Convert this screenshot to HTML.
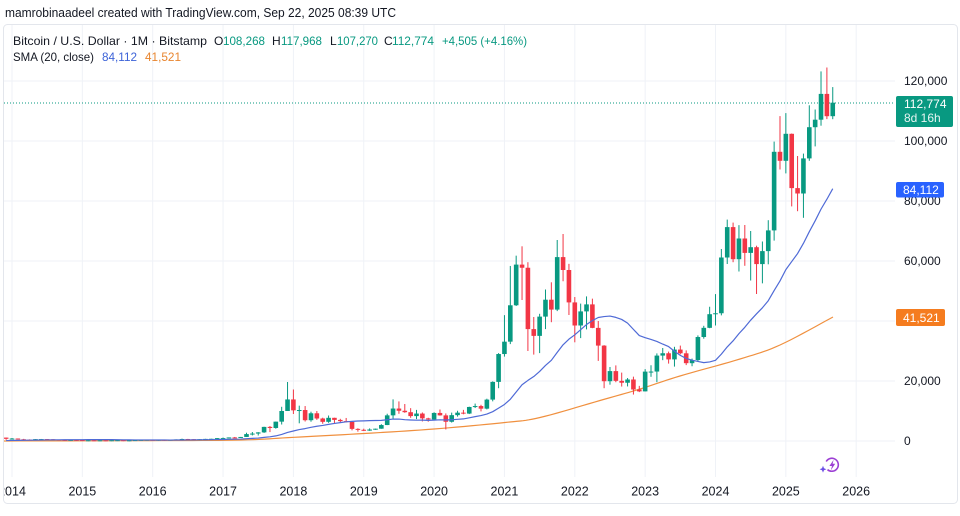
<!DOCTYPE html>
<html><head><meta charset="utf-8"><style>
html,body{margin:0;padding:0;background:#fff;}
body{width:960px;height:516px;overflow:hidden;}
svg{display:block;font-family:"Liberation Sans",Arial,sans-serif;}
</style></head><body>
<svg id="s" width="960" height="516" viewBox="0 0 960 516" xmlns="http://www.w3.org/2000/svg">
<defs><clipPath id="pc"><rect x="4" y="25" width="891" height="477"/></clipPath>
<clipPath id="fc"><rect x="4" y="25" width="953" height="478"/></clipPath></defs>
<rect x="0" y="0" width="960" height="516" fill="#fff"/>
<text x="5" y="17" font-size="13" fill="#131722" textLength="391" lengthAdjust="spacingAndGlyphs">mamrobinaadeel created with TradingView.com, Sep 22, 2025 08:39 UTC</text>
<rect x="3.5" y="24.5" width="954" height="479" rx="4" fill="#fff" stroke="#e3e6ec"/>
<g id="grid" stroke="#eff2f7" stroke-width="1"></g>
<g clip-path="url(#fc)" font-size="12.5" fill="#131722" text-anchor="middle" id="years"></g>
<g font-size="12" fill="#131722">
<text x="904" y="85">120,000</text>
<text x="904" y="145">100,000</text>
<text x="904" y="205">80,000</text>
<text x="904" y="265">60,000</text>
<text x="904" y="385">20,000</text>
<text x="904" y="445">0</text>
</g>
<line x1="4" y1="103" x2="895" y2="103" stroke="#089981" stroke-width="1" stroke-dasharray="1,2"/>
<g clip-path="url(#pc)"><g id="orange"></g><g id="cand"></g><g id="blue"></g></g>
<rect x="896" y="96" width="57" height="31" rx="2" fill="#089981"/>
<text x="904" y="108" font-size="12" fill="#fff">112,774</text>
<text x="904" y="122" font-size="12" fill="#e6f5f2">8d 16h</text>
<rect x="896" y="182" width="48" height="15.5" rx="2" fill="#2962ff"/>
<text x="903" y="194" font-size="12" fill="#fff">84,112</text>
<rect x="896" y="309" width="49" height="17" rx="2" fill="#f57c1f"/>
<text x="903" y="322" font-size="12" fill="#fff">41,521</text>
<g font-size="12">
<text x="13" y="45" fill="#131722" textLength="194" lengthAdjust="spacingAndGlyphs">Bitcoin / U.S. Dollar · 1M · Bitstamp</text>
<text x="214" y="45" fill="#131722">O</text><text x="223" y="45" fill="#089981" textLength="42" lengthAdjust="spacingAndGlyphs">108,268</text>
<text x="272" y="45" fill="#131722">H</text><text x="281" y="45" fill="#089981" textLength="41" lengthAdjust="spacingAndGlyphs">117,968</text>
<text x="330" y="45" fill="#131722">L</text><text x="337" y="45" fill="#089981" textLength="41" lengthAdjust="spacingAndGlyphs">107,270</text>
<text x="384" y="45" fill="#131722">C</text><text x="392" y="45" fill="#089981" textLength="42" lengthAdjust="spacingAndGlyphs">112,774</text>
<text x="442" y="45" fill="#089981" textLength="85" lengthAdjust="spacingAndGlyphs">+4,505 (+4.16%)</text>
<text x="13" y="61" fill="#131722" textLength="81" lengthAdjust="spacingAndGlyphs">SMA (20, close)</text>
<text x="102" y="61" fill="#3d63d8" textLength="35" lengthAdjust="spacingAndGlyphs">84,112</text>
<text x="145" y="61" fill="#e8852f" textLength="36" lengthAdjust="spacingAndGlyphs">41,521</text>
</g>
<g>
<path d="M827.5,469.6 A6.5,6.5 0 1 0 826.2,461.5" fill="none" stroke="#9c3fd4" stroke-width="1.6"/>
<polygon points="833.6,459.8 829.4,466 832,466 830.8,470.4 835.2,463.8 832.6,463.8" fill="#9c3fd4"/>
<polygon points="823,465.8 824,468.2 826.4,469.2 824,470.2 823,472.6 822,470.2 819.6,469.2 822,468.2" fill="#6b4fe6"/>
</g>
</svg>
<script>
(function(){
var NS="http://www.w3.org/2000/svg";
function el(n,a,p){var e=document.createElementNS(NS,n);for(var k in a)e.setAttribute(k,a[k]);p.appendChild(e);return e;}
var grid=document.getElementById('grid'),years=document.getElementById('years');
for(var k=0;k<=12;k++){var gx=12+70.35*k;el('line',{x1:gx,y1:25,x2:gx,y2:477},grid);
 var t=el('text',{x:gx,y:495.5},years);t.textContent=String(2014+k);}
for(var p=0;p<=120;p+=20){var gy=441-3*p;el('line',{x1:4,y1:gy,x2:895,y2:gy},grid);}
var D=[[1.13,1.16,0.40,0.73],
[0.73,1.00,0.73,0.83],[0.83,0.85,0.47,0.57],[0.57,0.71,0.44,0.46],[0.46,0.55,0.34,0.45],[0.45,0.63,0.42,0.63],[0.63,0.68,0.55,0.64],[0.64,0.64,0.57,0.59],[0.59,0.60,0.45,0.48],[0.48,0.49,0.37,0.39],[0.39,0.41,0.28,0.34],[0.34,0.45,0.32,0.38],[0.38,0.38,0.31,0.32],
[0.32,0.32,0.15,0.22],[0.22,0.26,0.21,0.25],[0.25,0.30,0.24,0.24],[0.24,0.26,0.21,0.24],[0.24,0.25,0.23,0.23],[0.23,0.27,0.22,0.26],[0.26,0.32,0.25,0.28],[0.28,0.29,0.16,0.23],[0.23,0.24,0.23,0.24],[0.24,0.33,0.24,0.31],[0.31,0.50,0.31,0.38],[0.38,0.47,0.35,0.43],
[0.43,0.46,0.35,0.37],[0.37,0.44,0.37,0.44],[0.44,0.44,0.39,0.42],[0.42,0.47,0.41,0.45],[0.45,0.55,0.44,0.53],[0.53,0.78,0.53,0.67],[0.67,0.70,0.60,0.62],[0.62,0.62,0.53,0.57],[0.57,0.61,0.56,0.61],[0.61,0.72,0.60,0.70],[0.70,0.75,0.68,0.74],[0.74,0.97,0.74,0.96],
[0.96,1.15,0.75,0.97],[0.97,1.20,0.92,1.19],[1.19,1.35,0.90,1.08],[1.08,1.35,1.06,1.35],[1.35,2.76,1.35,2.30],[2.30,3.00,1.85,2.48],[2.48,2.95,1.83,2.87],[2.87,4.75,2.70,4.70],[4.70,5.00,2.97,4.34],[4.34,6.47,4.10,6.45],[6.45,11.40,5.50,10.00],[10.00,19.67,10.00,13.85],
[13.85,17.17,9.00,10.22],[10.22,11.78,5.90,10.33],[10.33,11.65,6.50,6.93],[6.93,9.77,6.43,9.24],[9.24,9.99,7.05,7.50],[7.50,7.77,5.75,6.39],[6.39,8.50,6.07,7.73],[7.73,7.76,5.88,7.03],[7.03,7.40,6.10,6.63],[6.63,7.68,6.20,6.37],[6.37,6.59,3.55,4.04],[4.04,4.24,3.12,3.74],
[3.74,4.10,3.35,3.46],[3.46,4.20,3.39,3.83],[3.83,4.12,3.73,4.10],[4.10,5.60,4.08,5.32],[5.32,9.09,5.30,8.55],[8.55,13.88,7.45,10.82],[10.82,13.20,9.07,10.08],[10.08,12.33,9.40,9.60],[9.60,10.95,7.73,8.30],[8.30,10.37,7.30,9.15],[9.15,9.51,6.52,7.55],[7.55,7.75,6.43,7.19],
[7.19,9.57,6.87,9.35],[9.35,10.50,8.45,8.54],[8.54,9.19,3.85,6.41],[6.41,9.46,6.15,8.62],[8.62,10.08,8.13,9.45],[9.45,10.38,8.90,9.14],[9.14,11.44,8.98,11.34],[11.34,12.47,10.99,11.65],[11.65,12.07,9.87,10.78],[10.78,14.10,10.53,13.80],[13.80,19.88,13.22,19.70],[19.70,29.30,17.60,28.99],
[28.99,41.95,28.13,33.11],[33.11,58.35,32.30,45.24],[45.24,61.78,45.00,58.80],[58.80,64.90,47.00,57.75],[57.75,59.60,30.00,37.30],[37.30,41.33,28.80,35.04],[35.04,42.40,29.30,41.46],[41.46,50.50,37.30,47.10],[47.10,52.90,39.60,43.80],[43.80,67.00,43.30,61.30],[61.30,69.00,53.25,57.00],[57.00,59.05,42.00,46.20],
[46.20,47.99,32.90,38.50],[38.50,45.80,34.30,43.20],[43.20,48.20,37.20,45.54],[45.54,47.45,37.60,37.70],[37.70,40.00,26.70,31.80],[31.80,31.95,17.60,19.93],[19.93,24.67,18.78,23.30],[23.30,25.20,19.60,20.05],[20.05,22.80,18.15,19.42],[19.42,20.99,18.19,20.50],[20.50,21.45,15.48,17.16],[17.16,18.38,16.30,16.54],
[16.54,23.95,16.50,23.13],[23.13,25.25,21.40,23.15],[23.15,29.20,19.60,28.47],[28.47,31.00,26.95,29.25],[29.25,29.80,25.80,27.20],[27.20,31.40,24.80,30.48],[30.48,31.80,28.90,29.23],[29.23,30.20,25.30,25.94],[25.94,27.48,24.92,26.97],[26.97,35.20,26.55,34.66],[34.66,38.40,34.10,37.72],[37.72,44.75,37.60,42.27],
[42.27,48.97,38.50,42.58],[42.58,64.00,41.88,61.17],[61.17,73.80,59.00,71.30],[71.30,72.80,59.60,60.60],[60.60,71.95,56.50,67.50],[67.50,72.00,58.40,62.70],[62.70,70.00,53.50,64.60],[64.60,65.10,49.00,58.97],[58.97,66.50,52.55,63.30],[63.30,73.60,58.90,70.20],[70.20,99.80,66.80,96.40],[96.40,108.30,90.50,93.40],
[93.40,109.30,89.20,102.40],[102.40,102.50,78.20,84.30],[84.30,95.00,76.60,82.50],[82.50,95.80,74.40,94.20],[94.20,111.90,93.40,104.60],[104.60,110.50,98.20,107.10],[107.10,123.20,105.10,115.70],[115.70,124.50,107.30,108.27],[108.27,117.97,107.27,112.77]];
var pre=[5.1,3.2,3.0,4.7,5.5,4.9,4.9,5.0,5.2,6.7,9.3,10.1,12.4,11.2,12.6,13.5,20.4,33.4,93,139,129,97,106,135,133,204,1130].map(function(v){return v/1000;});
var closes=pre.concat(D.map(function(d){return d[3];}));
function X(i){return 12+(i-1)*5.8625;}
function Y(p){return 441-3*p;}
var cg=document.getElementById('cand');
for(var i=0;i<D.length;i++){
 var d=D[i],x=X(i),up=d[3]>=d[0],col=up?'#089981':'#f23645';
 var yh=Y(d[1]),yl=Y(d[2]);
 el('rect',{x:(x-0.5).toFixed(2),y:yh.toFixed(2),width:1,height:Math.max(1,yl-yh).toFixed(2),fill:col},cg);
 var yt=Y(Math.max(d[0],d[3])),yb=Y(Math.min(d[0],d[3]));
 var h=Math.max(1,yb-yt);
 el('rect',{x:(x-2.3).toFixed(2),y:yt.toFixed(2),width:4.6,height:h.toFixed(2),fill:col},cg);
}
var pts=[];
for(var i=0;i<D.length;i++){
 var g=pre.length+i,s=0;for(var j=g-19;j<=g;j++)s+=closes[j];
 pts.push(X(i).toFixed(2)+','+Y(s/20).toFixed(2));
}
el('polyline',{points:pts.join(' '),fill:'none',stroke:'#4f6ad6','stroke-width':1.2,'stroke-linejoin':'round'},document.getElementById('blue'));
var O=[[-2,441],[150,440.6],[241,440],[294,437.3],[364,433.5],[434,429],[505,422.5],[540,417.5],[600,400.5],[640,389],[680,376],[740,359],[780,345],[833,317]];
var op=[];
for(var k=0;k<O.length-1;k++){
 var p0=O[Math.max(0,k-1)],p1=O[k],p2=O[k+1],p3=O[Math.min(O.length-1,k+2)];
 for(var t=0;t<1;t+=0.1){
  var t2=t*t,t3=t2*t;
  var xx=0.5*((2*p1[0])+(-p0[0]+p2[0])*t+(2*p0[0]-5*p1[0]+4*p2[0]-p3[0])*t2+(-p0[0]+3*p1[0]-3*p2[0]+p3[0])*t3);
  var yy=0.5*((2*p1[1])+(-p0[1]+p2[1])*t+(2*p0[1]-5*p1[1]+4*p2[1]-p3[1])*t2+(-p0[1]+3*p1[1]-3*p2[1]+p3[1])*t3);
  op.push(xx.toFixed(2)+','+yy.toFixed(2));
 }
}
op.push(O[O.length-1][0]+','+O[O.length-1][1]);
el('polyline',{points:op.join(' '),fill:'none',stroke:'#f0903f','stroke-width':1.2,'stroke-linejoin':'round'},document.getElementById('orange'));
})();
</script>
</body></html>
